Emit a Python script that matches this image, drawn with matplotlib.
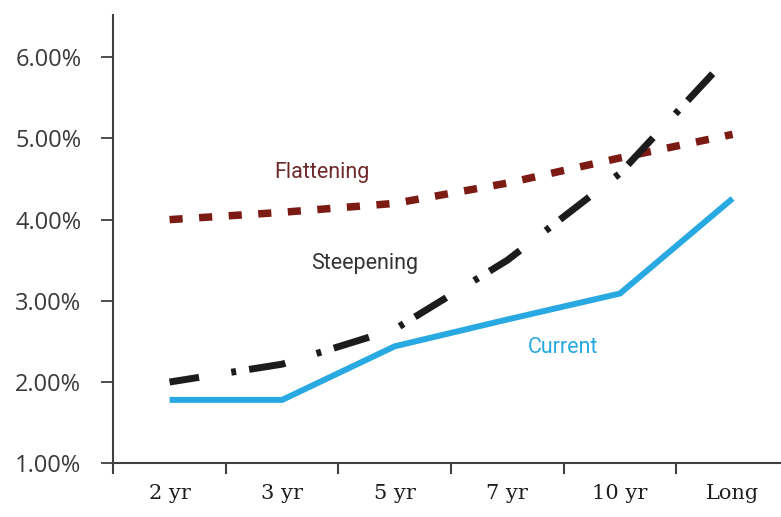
import numpy as np
import matplotlib
matplotlib.use("Agg")
import matplotlib.pyplot as plt
from matplotlib.ticker import FixedLocator, FuncFormatter

# dados
maturidades = ['2 yr', '3 yr', '5 yr', '7 yr', '10 yr', 'Long']
current = [1.78, 1.78, 2.44, 2.77, 3.09, 4.26]
flattening = [4.00, 4.09, 4.20, 4.45, 4.76, 5.05]
steepening = [2.00, 2.22, 2.65, 3.50, 4.57, 6.06]

cor_current = '#29a9e1'
cor_flat = '#7c1a14'
cor_steep = '#1c1c1c'
cor_eixo = '#404040'

x = np.arange(len(maturidades))

fig = plt.figure(figsize=(7.81, 5.17), dpi=100)
ax = fig.add_axes([0.145, 0.104, 0.855, 0.867])

ax.plot(x, flattening, color=cor_flat, linewidth=5.4,
        linestyle=(0, (1.75, 2.2)), dash_capstyle='butt')
ax.plot(x, steepening, color=cor_steep, linewidth=5.0,
        linestyle=(1.0, (5.3, 4.7, 0.7, 1.9)), dash_capstyle='butt')
ax.plot(x, current, color=cor_current, linewidth=4.3, solid_capstyle='butt',
        solid_joinstyle='miter')

# rotulos das series
ax.text(1.35, 4.58, 'Flattening', color='#6e2a2a', fontsize=15.5, family='Roboto',
        ha='center', va='center')
ax.text(1.73, 3.46, 'Steepening', color='#333333', fontsize=15.5, family='Roboto',
        ha='center', va='center')
ax.text(3.49, 2.43, 'Current', color=cor_current, fontsize=15.5, family='Roboto',
        ha='center', va='center')

ax.set_xlim(-0.5, 5.43)
ax.set_ylim(1.0, 6.52)

ax.yaxis.set_major_locator(FixedLocator([1, 2, 3, 4, 5, 6]))
ax.yaxis.set_major_formatter(FuncFormatter(lambda v, p: '{:.2f}%'.format(v)))
ax.set_xticks(x)
ax.set_xticklabels(maturidades)
ax.xaxis.set_minor_locator(FixedLocator(list(x - 0.5)))

ax.tick_params(axis='x', which='major', length=0, pad=15, labelsize=15,
               labelcolor='#1e1e1e')
ax.tick_params(axis='x', which='minor', length=8, width=1.5, color=cor_eixo,
               direction='out')
ax.tick_params(axis='y', length=9, width=1.3, color=cor_eixo, pad=14,
               labelsize=17, labelcolor='#3a3a3a')
for lab in ax.get_xticklabels():
    lab.set_family('DejaVu Serif')
for lab in ax.get_yticklabels():
    lab.set_family('Open Sans')

for s in ['top', 'right']:
    ax.spines[s].set_visible(False)
for s in ['left', 'bottom']:
    ax.spines[s].set_color(cor_eixo)
    ax.spines[s].set_linewidth(1.5)

fig.savefig('out.png', dpi=100)
